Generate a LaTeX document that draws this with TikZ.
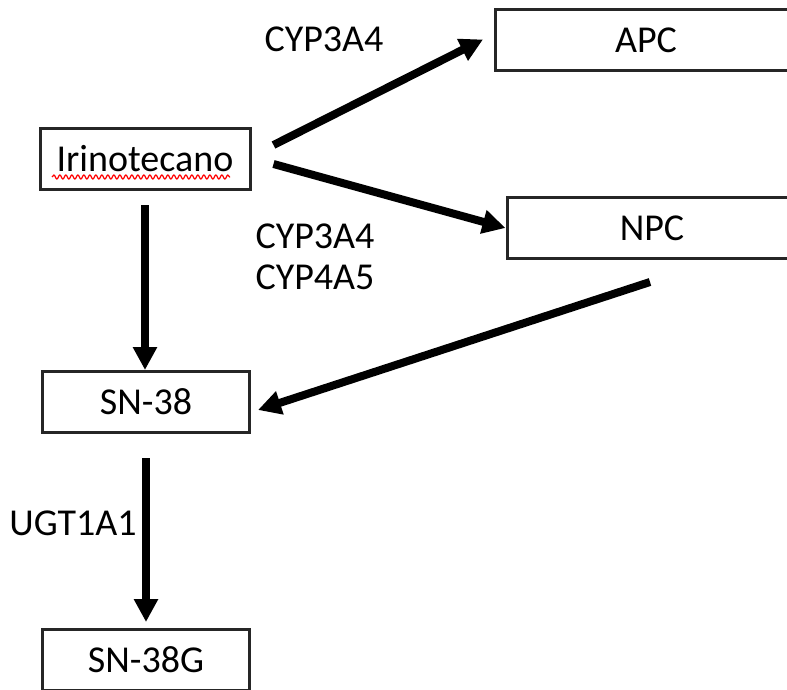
\documentclass[tikz,border=0pt]{standalone}
\usepackage{fontspec}
\setmainfont{Carlito}
\usetikzlibrary{arrows.meta,decorations.pathmorphing}

\begin{document}
\begin{tikzpicture}[x=1pt,y=-1pt,
    box/.style={draw=black!85,line width=3pt,minimum height=61pt,inner sep=0pt},
    flow/.style={line width=8pt,-{Triangle[length=23pt,width=23pt]}},
    enzyme/.style={align=center,inner sep=0pt},
    font=\fontsize{38}{41}\selectfont]
    \useasboundingbox (0,0) rectangle (787,690);
    \clip (0,0) rectangle (787,690);

    % Metabolites
    \node[box,minimum width=210pt] (irino) at (145,159) {Irinotecano};
    \node[box,minimum width=301pt] (apc) at (646,40.5) {APC};
    \node[box,minimum width=290pt] (npc) at (652,228) {NPC};
    \node[box,minimum width=207pt] (sn) at (146,402) {SN-38};
    \node[box,minimum width=207pt] (sng) at (146,660) {SN-38G};

    % spell check mark
    \draw[red,line width=1.2pt,decorate,decoration={snake,amplitude=2pt,segment length=6pt}]
        (52,177) -- (230,177);

    % Enzymes
    \node[enzyme] (cyp1) at (324,39) {CYP3A4};
    \node[enzyme] (cyp2) at (315,257) {CYP3A4\\CYP4A5};
    \node[enzyme] (ugt) at (73,523) {UGT1A1};

    % Reactions
    \draw[flow] ([shift={(22,-14)}]irino.east) -- ([shift={(-11,-1)}]apc.west);
    \draw[flow] ([shift={(22,5)}]irino.east) -- (npc.west);
    \draw[flow] ([yshift=-14pt]irino.south) -- ([xshift=-1pt]sn.north);
    \draw[flow] ([shift={(-2,22)}]npc.south) -- ([shift={(7,8)}]sn.east);
    \draw[flow] ([yshift=-24pt]sn.south) -- ([yshift=6pt]sng.north);
\end{tikzpicture}
\end{document}
